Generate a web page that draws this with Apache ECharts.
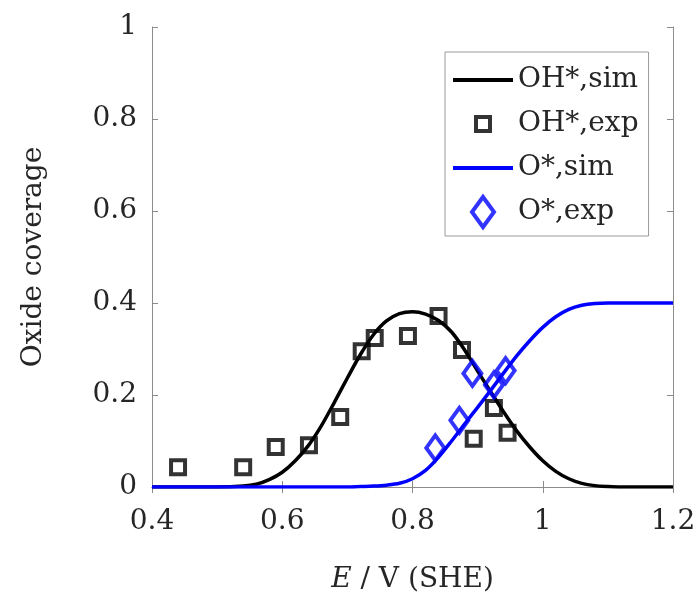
<!DOCTYPE html>
<html>
<head>
<meta charset="utf-8">
<script src="https://cdn.jsdelivr.net/npm/echarts@6/dist/echarts.min.js"></script>
<style>
    html, body { margin: 0; padding: 0; background: #fff; }
    #chart { width: 697px; height: 594px; }
</style>
</head>
<body>
<div id="chart"></div>
<script>
// E / V (SHE) sample points for the simulated curves
const simE = [0.40, 0.50, 0.54, 0.56, 0.58, 0.60, 0.62, 0.64, 0.66, 0.68, 0.70, 0.72, 0.74, 0.76, 0.78, 0.80,
    0.82, 0.84, 0.86, 0.88, 0.90, 0.92, 0.94, 0.96, 0.98, 1.00, 1.02, 1.04, 1.06, 1.08, 1.10, 1.12, 1.20];
const ohSim = [0, 0, 0.002, 0.006, 0.016, 0.032, 0.057, 0.09, 0.133, 0.184, 0.237, 0.288, 0.331, 0.361, 0.377, 0.381,
    0.376, 0.362, 0.337, 0.298, 0.252, 0.207, 0.163, 0.122, 0.087, 0.057, 0.034, 0.018, 0.008, 0.003, 0.001, 0, 0];
const oSim = [0, 0, 0, 0, 0, 0, 0, 0, 0, 0, 0, 0.001, 0.002, 0.004, 0.008, 0.018,
    0.036, 0.065, 0.1, 0.137, 0.173, 0.21, 0.248, 0.285, 0.318, 0.347, 0.37, 0.386, 0.395, 0.399, 0.4, 0.4, 0.4];

// experimental points
const ohExpE = [0.44, 0.54, 0.59, 0.641, 0.689, 0.722, 0.742, 0.793, 0.84, 0.876, 0.894, 0.925, 0.946];
const ohExp = [0.043, 0.043, 0.087, 0.091, 0.152, 0.295, 0.324, 0.328, 0.372, 0.298, 0.105, 0.172, 0.118];
const oExpE = [0.835, 0.872, 0.892, 0.925, 0.943];
const oExp = [0.085, 0.145, 0.247, 0.222, 0.253];

const xTicks = [0.4, 0.6, 0.8, 1, 1.2];
const yTicks = [0, 0.2, 0.4, 0.6, 0.8, 1];

const zip = (xs, ys) => xs.map((x, i) => [x, ys[i]]);

const font = 'DejaVu Serif';
const textColor = '#262626';
const axisColor = '#8c8c8c';

const chart = echarts.init(document.getElementById('chart'));

const axisBase = {
    type: 'value',
    splitLine: { show: false },
    axisLine: { show: true, lineStyle: { color: axisColor, width: 1 } },
    axisTick: { show: true, inside: true, length: 6, lineStyle: { color: axisColor } }
};

// legend icons: a short bar for the lines, padded square / tall diamond for the markers
const lineIcon = 'path://M0,-15M0,15M-30,-2h60v4h-60z';

chart.setOption({
    animation: false,
    backgroundColor: '#fff',
    grid: { left: 152, right: 24, top: 27, bottom: 107, outerBoundsMode: 'none' },
    legend: {
        orient: 'vertical',
        left: 445,
        top: 52,
        backgroundColor: '#fff',
        borderColor: '#9a9a9a',
        borderWidth: 1,
        padding: [13, 10, 7, 8],
        itemWidth: 60,
        itemHeight: 30,
        itemGap: 12,
        itemTextGap: 5,
        textStyle: { fontFamily: font, fontSize: 28, color: textColor },
        data: [
            { name: 'OH*,sim', icon: lineIcon },
            { name: 'OH*,exp', icon: 'path://M0,-15M0,15M-7,-7h14v14h-14z', itemStyle: { borderWidth: 4 } },
            { name: 'O*,sim', icon: lineIcon },
            { name: 'O*,exp', icon: 'path://M0,-15L11,0L0,15L-11,0Z', itemStyle: { borderWidth: 4 } }
        ]
    },
    xAxis: [
        Object.assign({}, axisBase, {
            position: 'bottom',
            min: xTicks[0],
            max: xTicks[xTicks.length - 1],
            interval: 0.2,
            axisLabel: { fontFamily: font, fontSize: 28, color: textColor, margin: 21 },
            name: '{i|E} / V (SHE)',
            nameLocation: 'middle',
            nameGap: 79,
            nameTextStyle: {
                fontFamily: font, fontSize: 28, color: textColor,
                rich: { i: { fontFamily: font, fontSize: 28, fontStyle: 'italic', color: textColor } }
            }
        }),
        Object.assign({}, axisBase, {
            position: 'top',
            min: xTicks[0],
            max: xTicks[xTicks.length - 1],
            interval: 0.2,
            axisLabel: { show: false }
        })
    ],
    yAxis: [
        Object.assign({}, axisBase, {
            position: 'left',
            min: yTicks[0],
            max: yTicks[yTicks.length - 1],
            interval: 0.2,
            axisLabel: { fontFamily: font, fontSize: 28, color: textColor, margin: 15 },
            name: 'Oxide coverage',
            nameLocation: 'middle',
            nameGap: 104,
            nameTextStyle: { fontFamily: font, fontSize: 28, color: textColor }
        }),
        Object.assign({}, axisBase, {
            position: 'right',
            min: yTicks[0],
            max: yTicks[yTicks.length - 1],
            interval: 0.2,
            axisLabel: { show: false }
        })
    ],
    series: [
        {
            name: 'OH*,sim',
            type: 'line',
            data: zip(simE, ohSim),
            symbol: 'none',
            smooth: 0.3,
            lineStyle: { color: '#000', width: 3.5 },
            itemStyle: { color: '#000' },
            z: 2
        },
        {
            name: 'OH*,exp',
            type: 'scatter',
            data: zip(ohExpE, ohExp),
            symbol: 'rect',
            symbolSize: 14,
            itemStyle: { color: 'transparent', borderColor: '#000', borderWidth: 4 },
            z: 3
        },
        {
            name: 'O*,sim',
            type: 'line',
            data: zip(simE, oSim),
            symbol: 'none',
            smooth: 0.3,
            lineStyle: { color: '#0000ff', width: 3.5 },
            itemStyle: { color: '#0000ff' },
            z: 2
        },
        {
            name: 'O*,exp',
            type: 'scatter',
            data: zip(oExpE, oExp),
            symbol: 'diamond',
            symbolSize: [18, 25],
            itemStyle: { color: 'transparent', borderColor: '#0000ff', borderWidth: 4 },
            z: 4
        }
    ]
});
</script>
</body>
</html>
